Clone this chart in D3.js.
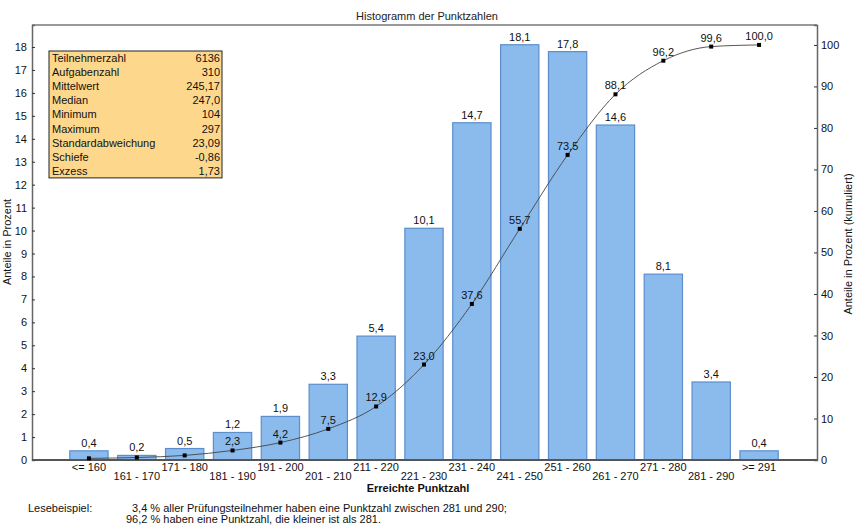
<!DOCTYPE html>
<html>
<head>
<meta charset="utf-8">
<script src="https://cdn.jsdelivr.net/npm/d3@7"></script>
<style>
  body { margin: 0; background: #fff; }
  svg { font-family: "Liberation Sans", Arial, sans-serif; }
</style>
</head>
<body>
<div id="chart"></div>
<script>
/* Histogramm der Punktzahlen — bars + cumulative line */

const categories = ["<= 160", "161 - 170", "171 - 180", "181 - 190", "191 - 200",
  "201 - 210", "211 - 220", "221 - 230", "231 - 240", "241 - 250",
  "251 - 260", "261 - 270", "271 - 280", "281 - 290", ">= 291"];
const shares = [0.4, 0.2, 0.5, 1.2, 1.9, 3.3, 5.4, 10.1, 14.7, 18.1, 17.8, 14.6, 8.1, 3.4, 0.4];
const cumulative = [0.4, 0.6, 1.1, 2.3, 4.2, 7.5, 12.9, 23.0, 37.6, 55.7, 73.5, 88.1, 96.2, 99.6, 100.0];
const cumLabelFrom = 3; // first points carry no label

const leftTicks = d3.range(0, 19);
const rightTicks = d3.range(0, 101, 10);

const statNames = ["Teilnehmerzahl", "Aufgabenzahl", "Mittelwert", "Median", "Minimum",
  "Maximum", "Standardabweichung", "Schiefe", "Exzess"];
const statValues = ["6136", "310", "245,17", "247,0", "104", "297", "23,09", "-0,86", "1,73"];

const fmt = v => d3.format(".1f")(v).replace(".", ",");

const width = 861, height = 531;
const L = 32, R = 817, T = 25, B = 460;

const svg = d3.select("#chart").append("svg")
  .attr("width", width).attr("height", height);

const x = d3.scaleBand().domain(categories)
  .range([65, 783]).paddingInner(0.2).paddingOuter(0.1);
const y = d3.scaleLinear().domain([0, 18.96]).range([B, T]);
const y2 = d3.scaleLinear().domain([0, 104.8]).range([B, T]);

// title
svg.append("text")
  .attr("x", 427).attr("y", 20)
  .attr("text-anchor", "middle")
  .attr("font-size", 11).attr("fill", "#222")
  .text("Histogramm der Punktzahlen");

// frame top
svg.append("line")
  .attr("x1", L).attr("x2", R).attr("y1", T).attr("y2", T)
  .attr("stroke", "#777").attr("stroke-width", 1.5);

// bars
svg.append("g").selectAll("rect")
  .data(shares)
  .join("rect")
  .attr("x", (d, i) => x(categories[i]))
  .attr("y", d => y(d))
  .attr("width", x.bandwidth())
  .attr("height", d => B - y(d))
  .attr("fill", "#8bbbec")
  .attr("stroke", "#5a8fcc")
  .attr("stroke-width", 1.2);

svg.append("g").selectAll("text")
  .data(shares)
  .join("text")
  .attr("x", (d, i) => x(categories[i]) + x.bandwidth() / 2)
  .attr("y", d => y(d) - 4)
  .attr("text-anchor", "middle")
  .attr("font-size", 11).attr("fill", "#111")
  .text(d => fmt(d));

// left axis
const gl = svg.append("g").attr("transform", `translate(${L},0)`)
  .call(d3.axisRight(y).tickValues(leftTicks).tickSize(3).tickFormat(d3.format("d")));
gl.select(".domain").attr("stroke", "#666").attr("stroke-width", 1.5);
gl.selectAll(".tick line").attr("stroke", "#333");
gl.selectAll(".tick text").attr("x", -5).attr("text-anchor", "end")
  .attr("font-size", 11).attr("fill", "#111").attr("font-family", "Liberation Sans, Arial, sans-serif");

// right axis
const gr = svg.append("g").attr("transform", `translate(${R},0)`)
  .call(d3.axisLeft(y2).tickValues(rightTicks).tickSize(3).tickFormat(d3.format("d")));
gr.select(".domain").attr("stroke", "#666").attr("stroke-width", 1.5);
gr.selectAll(".tick line").attr("stroke", "#333");
gr.selectAll(".tick text").attr("x", 4).attr("text-anchor", "start")
  .attr("font-size", 11).attr("fill", "#111").attr("font-family", "Liberation Sans, Arial, sans-serif");

// bottom axis
svg.append("line")
  .attr("x1", L).attr("x2", R).attr("y1", B).attr("y2", B)
  .attr("stroke", "#555").attr("stroke-width", 2);

svg.append("g").selectAll("text")
  .data(categories)
  .join("text")
  .attr("x", d => x(d) + x.bandwidth() / 2)
  .attr("y", (d, i) => i % 2 === 0 ? 471 : 480)
  .attr("text-anchor", "middle")
  .attr("font-size", 11).attr("fill", "#111")
  .text(d => d);

svg.append("text")
  .attr("x", 418).attr("y", 492)
  .attr("text-anchor", "middle")
  .attr("font-size", 11).attr("font-weight", "bold").attr("fill", "#111")
  .text("Erreichte Punktzahl");

// axis titles
svg.append("text")
  .attr("transform", "translate(11,242) rotate(-90)")
  .attr("text-anchor", "middle")
  .attr("font-size", 11).attr("fill", "#111")
  .text("Anteile in Prozent");

svg.append("text")
  .attr("transform", "translate(852,244) rotate(-90)")
  .attr("text-anchor", "middle")
  .attr("font-size", 11).attr("fill", "#111")
  .text("Anteile in Prozent (kumuliert)");

// cumulative line
const cx = (d, i) => x(categories[i]) + x.bandwidth() / 2;
const line = d3.line()
  .x(cx)
  .y(d => y2(d))
  .curve(d3.curveMonotoneX);

svg.append("path")
  .datum(cumulative)
  .attr("d", line)
  .attr("fill", "none")
  .attr("stroke", "#444")
  .attr("stroke-width", 0.9);

svg.append("g").selectAll("rect")
  .data(cumulative)
  .join("rect")
  .attr("x", (d, i) => cx(d, i) - 2)
  .attr("y", d => y2(d) - 2)
  .attr("width", 4).attr("height", 4)
  .attr("fill", "#000");

svg.append("g").selectAll("text")
  .data(cumulative.slice(cumLabelFrom))
  .join("text")
  .attr("x", (d, i) => cx(d, i + cumLabelFrom))
  .attr("y", d => y2(d) - 5)
  .attr("text-anchor", "middle")
  .attr("font-size", 11).attr("fill", "#111")
  .text(d => fmt(d));

// statistics box
const bx = 49, by = 51, bw = 173, rowH = 14.1;
const box = svg.append("g");
box.append("rect")
  .attr("x", bx).attr("y", by)
  .attr("width", bw).attr("height", rowH * statNames.length)
  .attr("fill", "#fdd88c")
  .attr("stroke", "#222").attr("stroke-width", 1);

box.selectAll("text.name")
  .data(statNames)
  .join("text")
  .attr("class", "name")
  .attr("x", bx + 3)
  .attr("y", (d, i) => by + rowH * i + 11)
  .attr("font-size", 11).attr("fill", "#111")
  .text(d => d);

box.selectAll("text.val")
  .data(statValues)
  .join("text")
  .attr("class", "val")
  .attr("x", bx + bw - 2)
  .attr("y", (d, i) => by + rowH * i + 11)
  .attr("text-anchor", "end")
  .attr("font-size", 11).attr("fill", "#111")
  .text(d => d);

// reading example
svg.append("text")
  .attr("x", 28).attr("y", 512)
  .attr("font-size", 11).attr("fill", "#111")
  .text("Lesebeispiel:");
svg.append("text")
  .attr("x", 132).attr("y", 512)
  .attr("font-size", 11).attr("fill", "#111")
  .text("3,4 % aller Prüfungsteilnehmer haben eine Punktzahl zwischen 281 und 290;");
svg.append("text")
  .attr("x", 126).attr("y", 523)
  .attr("font-size", 11).attr("fill", "#111")
  .text("96,2 % haben eine Punktzahl, die kleiner ist als 281.");
</script>
</body>
</html>
